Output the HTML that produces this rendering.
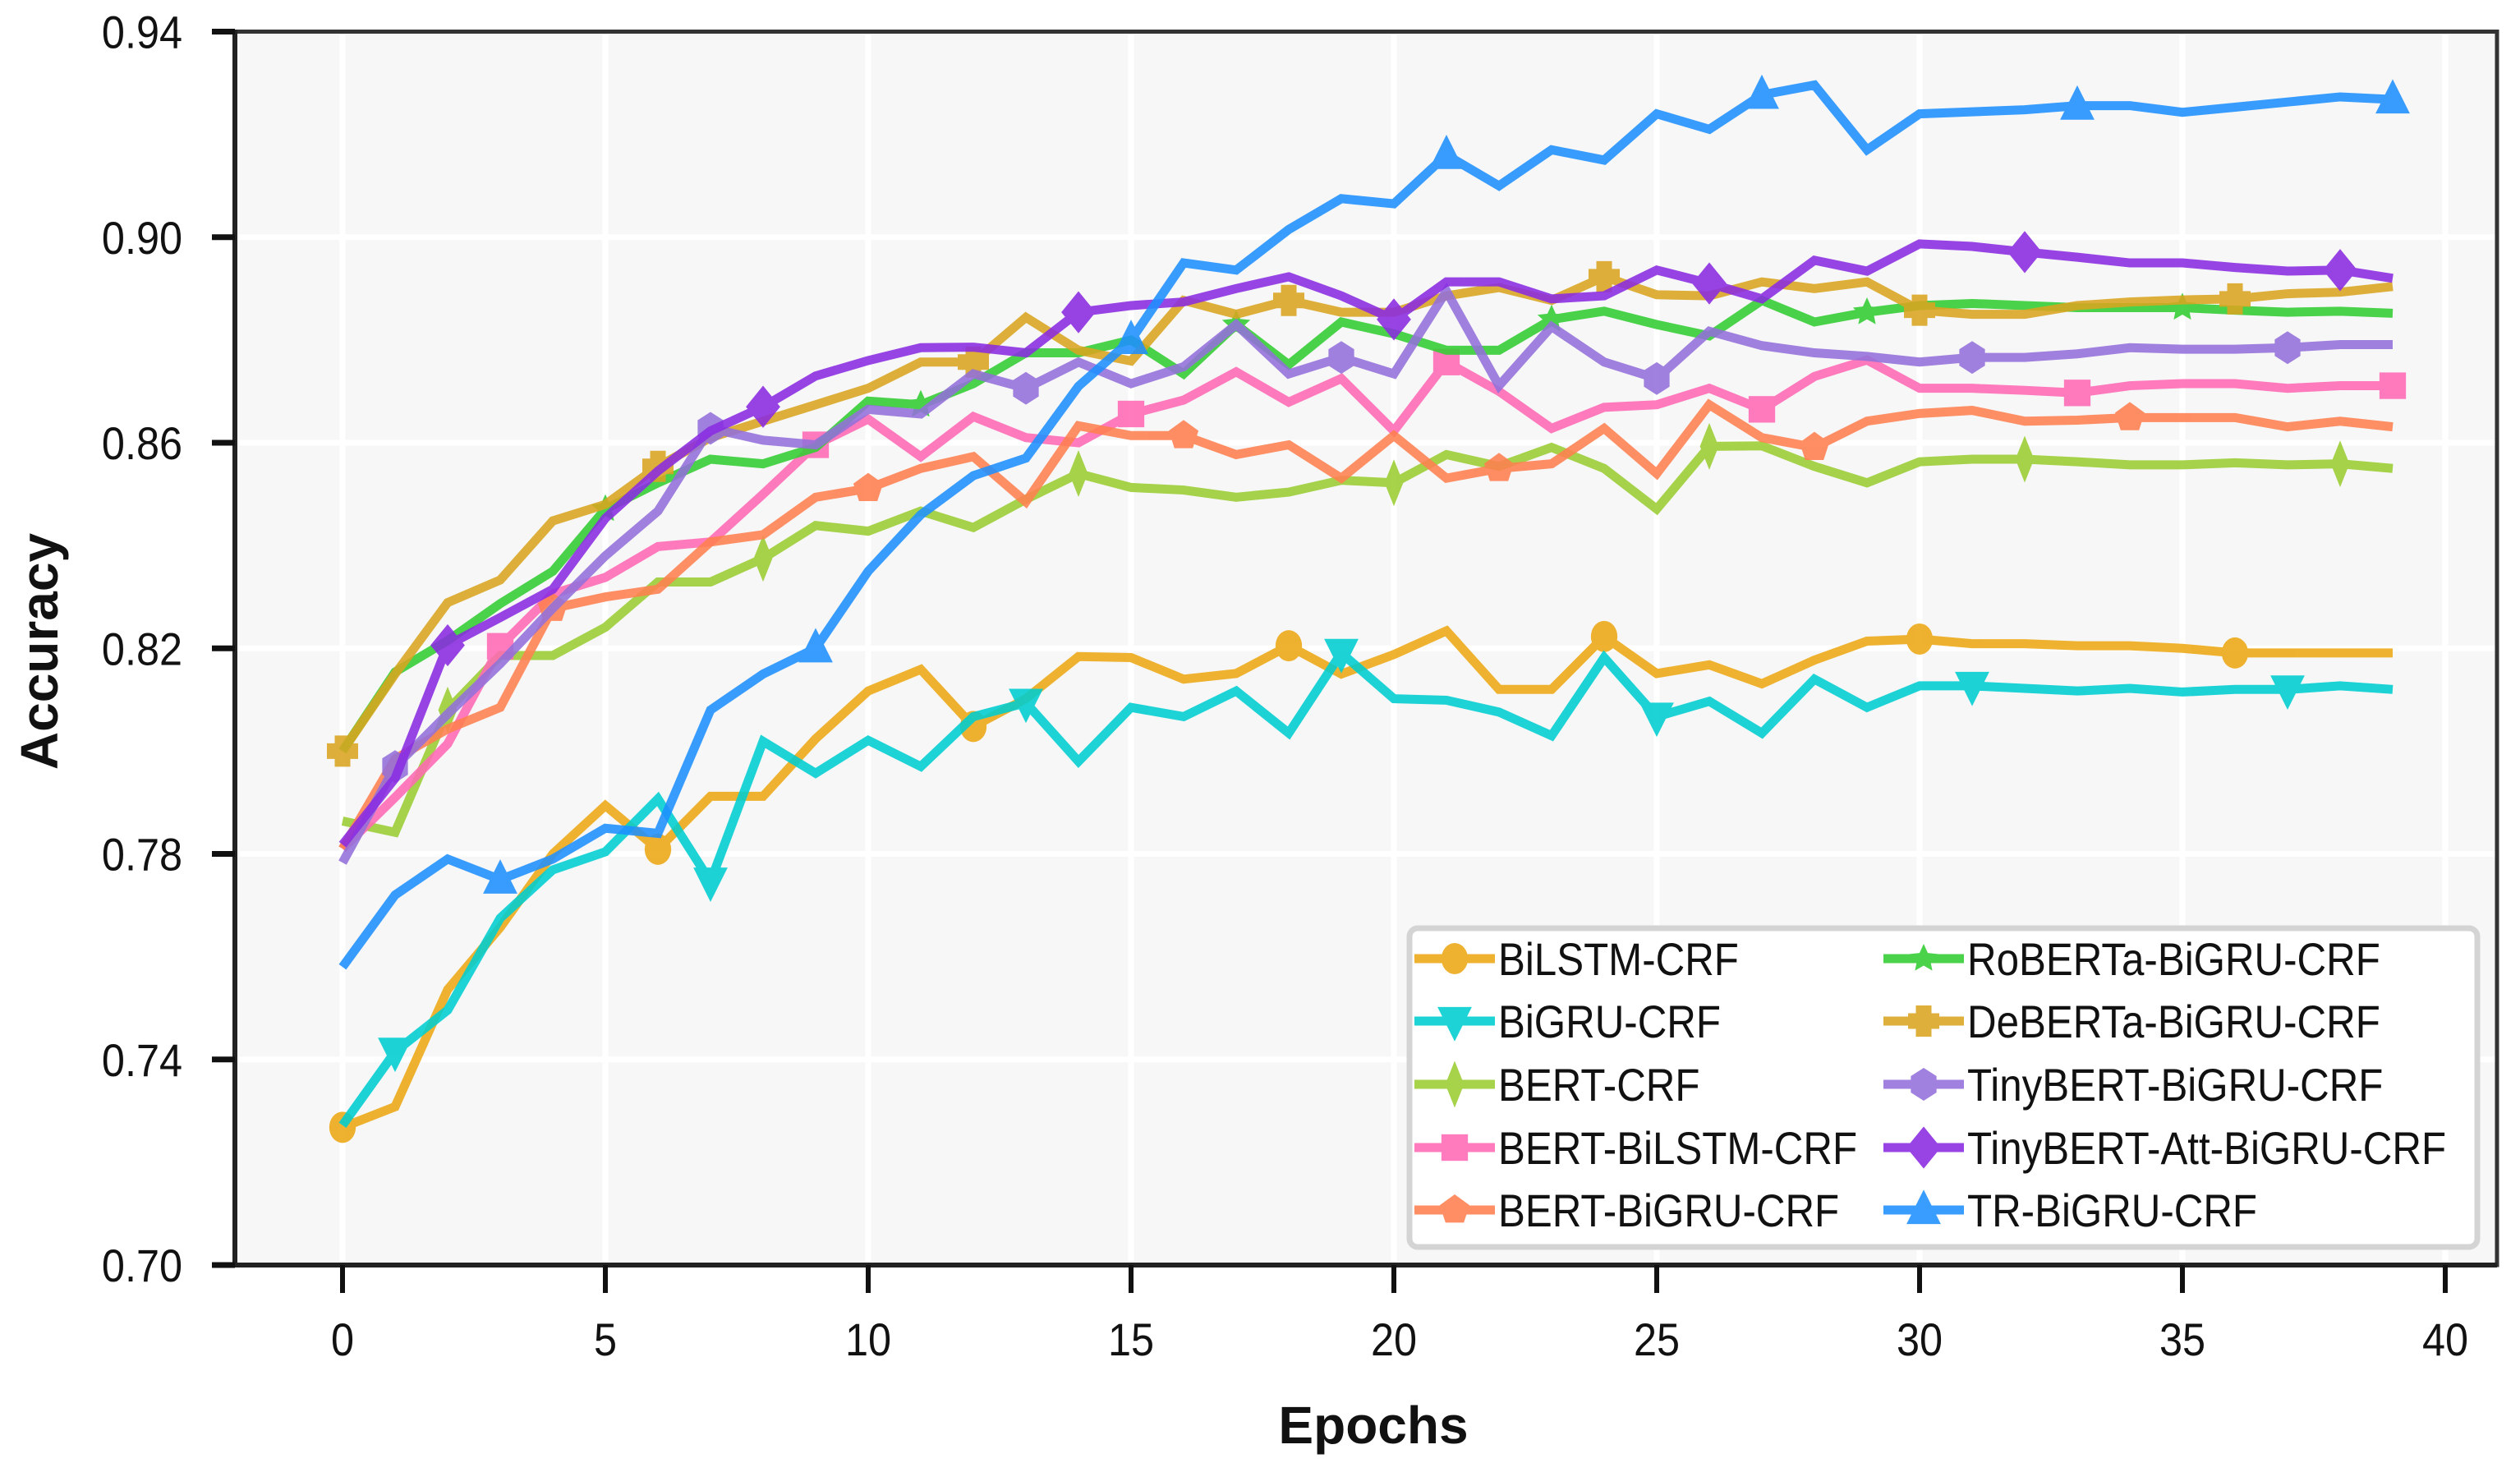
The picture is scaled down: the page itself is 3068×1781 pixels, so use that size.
<!DOCTYPE html>
<html><head><meta charset="utf-8">
<style>
html,body{margin:0;padding:0;background:#fff;}
svg{display:block;}
text{font-family:"Liberation Sans Narrow","Liberation Sans",sans-serif;}
</style></head>
<body>
<svg id="chart" xmlns="http://www.w3.org/2000/svg" width="3068" height="1781" viewBox="0 0 3068 1781">
  <rect x="286" y="38.5" width="2754" height="1501.5" fill="#f7f7f7"/>
  <g id="grid"></g>
  <g id="series"></g>
  <g id="axes"></g>
  <g id="legend"></g>
</svg>
<script>
const epochs = Array.from({length:40},(_,i)=>i);
const xTicks = [0,5,10,15,20,25,30,35,40];
const yTicks = [0.70,0.74,0.78,0.82,0.86,0.90,0.94];
const yTickLabels = ["0.70","0.74","0.78","0.82","0.86","0.90","0.94"];
const seriesNames = ["BiLSTM-CRF","BiGRU-CRF","BERT-CRF","BERT-BiLSTM-CRF","BERT-BiGRU-CRF","RoBERTa-BiGRU-CRF","DeBERTa-BiGRU-CRF","TinyBERT-BiGRU-CRF","TinyBERT-Att-BiGRU-CRF","TR-BiGRU-CRF"];
const bilstm = [0.7268,0.7308,0.7536,0.7657,0.780,0.7894,0.7809,0.7912,0.7912,0.8024,0.8117,0.8159,0.8048,0.8102,0.8184,0.8182,0.814,0.8151,0.8205,0.815,0.8188,0.8234,0.812,0.812,0.8223,0.8151,0.8168,0.8131,0.8177,0.8214,0.8218,0.8209,0.8209,0.8205,0.8205,0.820,0.8191,0.8191,0.8191,0.8191];
const bigru = [0.7272,0.7415,0.7496,0.7675,0.7769,0.7804,0.7907,0.7746,0.8019,0.7957,0.8021,0.797,0.8067,0.8094,0.798,0.8085,0.8067,0.8117,0.8035,0.8191,0.8102,0.8099,0.8076,0.803,0.8182,0.8067,0.8097,0.8035,0.814,0.8085,0.8127,0.8127,0.8122,0.8117,0.8122,0.8115,0.812,0.812,0.8127,0.812];
const bertCrf = [0.7864,0.7842,0.808,0.8186,0.8186,0.8241,0.8329,0.8329,0.8375,0.8439,0.8428,0.8467,0.8435,0.849,0.854,0.8513,0.8508,0.8494,0.8504,0.8527,0.8522,0.8577,0.8554,0.8591,0.855,0.8471,0.8593,0.8594,0.8554,0.8522,0.8563,0.8568,0.8568,0.8563,0.8557,0.8557,0.8561,0.8557,0.8559,0.855];
const bertBilstm = [0.781,0.791,0.8014,0.8204,0.8306,0.8338,0.8398,0.8407,0.850,0.8596,0.8646,0.8573,0.8651,0.861,0.860,0.8656,0.8683,0.8738,0.8679,0.8725,0.8623,0.8757,0.870,0.8628,0.8669,0.8674,0.8706,0.8665,0.8729,0.8761,0.8706,0.8706,0.8702,0.8697,0.8711,0.8715,0.8715,0.8706,0.8711,0.8711];
const bertBigru = [0.781,0.7985,0.8043,0.8085,0.8278,0.830,0.8315,0.8407,0.8421,0.8494,0.8511,0.855,0.8573,0.8485,0.8633,0.8614,0.8614,0.8577,0.8596,0.8531,0.8614,0.8531,0.855,0.8559,0.8628,0.854,0.8674,0.861,0.8591,0.8642,0.8657,0.8663,0.8642,0.8644,0.8649,0.8649,0.8649,0.8631,0.8642,0.8631];
const roberta = [0.80,0.8154,0.8215,0.8287,0.835,0.8471,0.8522,0.8568,0.8559,0.8591,0.8681,0.8674,0.8715,0.8775,0.8775,0.880,0.8734,0.883,0.8752,0.8835,0.8812,0.878,0.878,0.884,0.8856,0.883,0.8808,0.8877,0.8835,0.8854,0.8867,0.8871,0.8867,0.8863,0.8863,0.8863,0.8858,0.8854,0.8856,0.8852];
const deberta = [0.80,0.815,0.8289,0.8333,0.8448,0.848,0.8554,0.861,0.8642,0.8674,0.8706,0.8757,0.8757,0.8844,0.878,0.8759,0.8877,0.885,0.8877,0.8854,0.8854,0.8886,0.8902,0.8877,0.8923,0.8888,0.8886,0.8913,0.890,0.8913,0.8858,0.885,0.885,0.8867,0.8874,0.8878,0.888,0.889,0.8893,0.8904];
const tinybert = [0.7783,0.797,0.8072,0.817,0.8278,0.838,0.8467,0.8628,0.8605,0.8596,0.8665,0.8656,0.8734,0.8706,0.8757,0.8715,0.8748,0.883,0.8734,0.8766,0.8734,0.8895,0.8711,0.8826,0.8757,0.8725,0.8817,0.8789,0.8775,0.8768,0.8757,0.8766,0.8766,0.8773,0.8785,0.8782,0.8782,0.8785,0.8791,0.8791];
const tinybertAtt = [0.7818,0.7947,0.8206,0.826,0.8315,0.8453,0.8545,0.8623,0.867,0.873,0.876,0.8785,0.8786,0.8775,0.8854,0.8867,0.8874,0.890,0.8923,0.8886,0.884,0.8913,0.8913,0.888,0.8886,0.8936,0.891,0.888,0.8955,0.8934,0.8987,0.8982,0.8971,0.8961,0.895,0.895,0.8941,0.8934,0.8936,0.892];
const trBigru = [0.758,0.772,0.779,0.775,0.779,0.785,0.784,0.808,0.815,0.820,0.835,0.846,0.8536,0.857,0.871,0.880,0.895,0.8936,0.9015,0.9075,0.9065,0.916,0.910,0.917,0.915,0.924,0.921,0.9277,0.9296,0.917,0.924,0.9244,0.9248,0.9256,0.9256,0.9243,0.9253,0.9263,0.9273,0.9268];
const allSeries = [bilstm,bigru,bertCrf,bertBilstm,bertBigru,roberta,deberta,tinybert,tinybertAtt,trBigru];
const colors = ["#EDA814","#00CED1","#9ACD32","#FF69B4","#FF7F50","#32CD32","#DAA520","#9370DB","#8A2BE2","#1E90FF"];
const markers = ["circle","tri-down","thin-diamond","square","pentagon","star","plus","hexagon","diamond","tri-up"];
const markOffsets = [0,1,2,3,4,5,0,1,2,3];

const NS="http://www.w3.org/2000/svg";
const L=286,R=3040,T=38.5,B=1540;
const xScale = e => 417 + e*64.0;
const yScale = v => T + (0.94 - v)*(B-T)/0.24;
function mk(tag,attrs,parent){const el=document.createElementNS(NS,tag);for(const k in attrs)el.setAttribute(k,attrs[k]);parent.appendChild(el);return el;}

const grid=document.getElementById('grid');
xTicks.forEach(t=>{const g=mk('line',{x1:xScale(t),x2:xScale(t),y1:T,y2:B,stroke:'#fff','stroke-width':7},grid);

});
yTicks.forEach(t=>{const g=mk('line',{x1:L,x2:R,y1:yScale(t),y2:yScale(t),stroke:'#fff','stroke-width':7},grid);

});

function markerShape(type,cx,cy,s,color,parent){
  let el;const r=s;
  const poly=(pts)=>mk('polygon',{points:pts.map(p=>p.join(',')).join(' '),fill:color},parent);
  if(type==='circle') el=mk('ellipse',{cx:cx,cy:cy,rx:r*0.85,ry:r*1.0,fill:color},parent);
  else if(type==='square') el=mk('rect',{x:cx-r*0.85,y:cy-r*0.85,width:r*1.7,height:r*1.7,fill:color},parent);
  else if(type==='tri-down') el=poly([[cx-r*1.1,cy-r*0.9],[cx+r*1.1,cy-r*0.9],[cx,cy+r*1.3]]);
  else if(type==='tri-up') el=poly([[cx-r*1.1,cy+r*0.9],[cx+r*1.1,cy+r*0.9],[cx,cy-r*1.3]]);
  else if(type==='diamond') el=poly([[cx,cy-r*1.35],[cx+r*1.1,cy],[cx,cy+r*1.35],[cx-r*1.1,cy]]);
  else if(type==='thin-diamond') el=poly([[cx,cy-r*1.5],[cx+r*0.6,cy],[cx,cy+r*1.5],[cx-r*0.6,cy]]);
  else if(type==='pentagon'){const p=[];for(let i=0;i<5;i++){const a=-Math.PI/2+i*2*Math.PI/5;p.push([cx+r*Math.cos(a),cy+r*Math.sin(a)]);}el=poly(p);}
  else if(type==='hexagon'){const p=[];for(let i=0;i<6;i++){const a=-Math.PI/2+i*Math.PI/3;p.push([cx+r*0.95*Math.cos(a),cy+r*1.05*Math.sin(a)]);}el=poly(p);}
  else if(type==='plus'){const w=r*0.5;el=poly([[cx-w,cy-r],[cx+w,cy-r],[cx+w,cy-w],[cx+r,cy-w],[cx+r,cy+w],[cx+w,cy+w],[cx+w,cy+r],[cx-w,cy+r],[cx-w,cy+w],[cx-r,cy+w],[cx-r,cy-w],[cx-w,cy-w]]);}
  else if(type==='star'){const p=[];for(let i=0;i<10;i++){const a=-Math.PI/2+i*Math.PI/5;const rr=i%2?r*0.45:r*0.95;p.push([cx+rr*Math.cos(a),cy+rr*Math.sin(a)]);}el=poly(p);}
  return el;
}

const sg=document.getElementById('series');
allSeries.forEach((vals,si)=>{
  const g=mk('g',{opacity:0.88},sg);
  
  
  const pts=vals.map((v,i)=>xScale(epochs[i])+','+yScale(v)).join(' ');
  const pl=mk('polyline',{points:pts,fill:'none',stroke:colors[si],'stroke-width':11,'stroke-linejoin':'miter'},g);
  
  
  vals.forEach((v,i)=>{
    if(i%6===markOffsets[si]){
      const m=markerShape(markers[si],xScale(epochs[i]),yScale(v),19,colors[si],g);
      
      
    }
  });
});

const ax=document.getElementById('axes');
const frame=mk('rect',{x:L,y:T,width:R-L,height:B-T,fill:'none',stroke:'#333','stroke-width':5},ax);


mk('line',{x1:L,x2:L,y1:T-2,y2:B+2,stroke:'#222','stroke-width':6},ax);
mk('line',{x1:L-2,x2:R,y1:B,y2:B,stroke:'#222','stroke-width':6},ax);
yTicks.forEach((t,i)=>{
  mk('line',{x1:L-28,x2:L,y1:yScale(t),y2:yScale(t),stroke:'#111','stroke-width':7},ax);
  const tx=mk('text',{x:0,y:0,'text-anchor':'end','font-size':56,fill:'#111',transform:'translate(222,'+(yScale(t)+20)+') scale(0.9,1)'},ax);
  tx.textContent=yTickLabels[i];
  
  
});
xTicks.forEach(t=>{
  mk('line',{x1:xScale(t),x2:xScale(t),y1:B,y2:B+34,stroke:'#111','stroke-width':6},ax);
  const tx=mk('text',{x:0,y:0,'text-anchor':'middle','font-size':56,fill:'#111',transform:'translate('+xScale(t)+',1650) scale(0.9,1)'},ax);
  tx.textContent=String(t);
  
  
});
const xt=mk('text',{x:1672,y:1757,'text-anchor':'middle','font-size':64,'font-weight':'bold',fill:'#111',style:'font-family:"Liberation Sans",sans-serif'},ax);
xt.textContent='Epochs';


const yt=mk('text',{x:0,y:0,'text-anchor':'middle','font-size':64,'font-weight':'bold',fill:'#111',transform:'translate(70,793) rotate(-90)',style:'font-family:"Liberation Sans",sans-serif'},ax);
yt.textContent='Accuracy';



const lg=document.getElementById('legend');
const box=mk('rect',{x:1716,y:1130,width:1300,height:388,rx:10,fill:'#fff',stroke:'#d4d4d4','stroke-width':7},lg);


const rowsY=[1167,1243,1320,1397,1473];
seriesNames.forEach((n,i)=>{
  const col=Math.floor(i/5),row=i%5;
  const lx=col?2293:1722, cy=rowsY[row];
  const eg=mk('g',{},lg);
  
  
  const gg=mk('g',{opacity:0.88},eg);
  mk('line',{x1:lx,x2:lx+98,y1:cy,y2:cy,stroke:colors[i],'stroke-width':11},gg);
  markerShape(markers[i],lx+49,cy,19,colors[i],gg);
  const tx=mk('text',{x:0,y:0,'font-size':56,fill:'#111',transform:'translate('+(lx+102)+','+(cy+20)+') scale(0.88,1)'},eg);
  tx.textContent=n;
});
</script>
</body></html>
